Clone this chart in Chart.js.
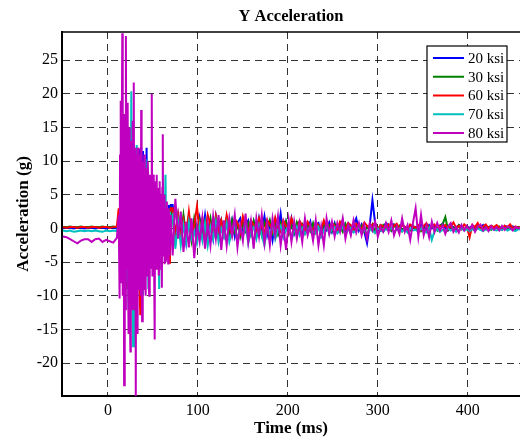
<!DOCTYPE html>
<html>
<head>
<meta charset="utf-8">
<title>Y Acceleration</title>
<script src="https://cdn.jsdelivr.net/npm/chart.js@4.4.1/dist/chart.umd.min.js"></script>
<style>
  body { margin: 0; background: #fff; }
  #chart { display: block; }
</style>
</head>
<body>
<canvas id="chart" width="520" height="438"></canvas>
<script>
// time in ms (coarse before impact, 1 ms during impact, 3 ms afterwards)
const time = [
  -50,-46,-42,-38,-34,-30,-26,-22,-18,-14,-10,-6,-2,2,6,10,
  12,13,14,15,16,17,18,19,20,21,
  22,23,24,25,26,27,28,29,30,31,
  32,33,34,35,36,37,38,39,40,41,
  42,43,44,45,46,47,48,49,50,51,
  52,53,54,55,56,57,58,59,60,61,
  62,63,64,65,66,67,68,69,70,
  72,75,78,81,84,87,90,93,96,99,
  102,105,108,111,114,117,120,123,126,129,
  132,135,138,141,144,147,150,153,156,159,
  162,165,168,171,174,177,180,183,186,189,
  192,195,198,201,204,207,210,213,216,219,
  222,225,228,231,234,237,240,243,246,249,
  252,255,258,261,264,267,270,273,276,279,
  282,285,288,291,294,297,300,303,306,309,
  312,315,318,321,324,327,330,333,336,339,
  342,345,348,351,354,357,360,363,366,369,
  372,375,378,381,384,387,390,393,396,399,
  402,405,408,411,414,417,420,423,426,429,
  432,435,438,441,444,447,450,453,456,459
];

// the 80 ksi record is read at 0.5 ms through the impact
const time80 = [
  -50,-46,-42,-38,-34,-30,-26,-22,-18,-14,-10,-6,-2,2,6,10,
  12,12.5,13,13.5,14,14.5,15,15.5,16,16.5,17,17.5,18,18.5,19,19.5,20,20.5,21,21.5,
  22,22.5,23,23.5,24,24.5,25,25.5,26,26.5,27,27.5,28,28.5,29,29.5,30,30.5,31,31.5,
  32,32.5,33,33.5,34,34.5,35,35.5,36,36.5,37,37.5,38,38.5,39,39.5,40,40.5,41,41.5,
  42,42.5,43,43.5,44,44.5,45,45.5,46,46.5,47,47.5,48,48.5,49,49.5,50,50.5,51,51.5,
  52,52.5,53,53.5,54,54.5,55,55.5,56,56.5,57,57.5,58,58.5,59,59.5,60,60.5,61,61.5,
  62,62.5,63,63.5,64,64.5,65,65.5,66,66.5,67,67.5,68,68.5,69,69.5,70,
  72,75,78,81,84,87,90,93,96,99,
  102,105,108,111,114,117,120,123,126,129,
  132,135,138,141,144,147,150,153,156,159,
  162,165,168,171,174,177,180,183,186,189,
  192,195,198,201,204,207,210,213,216,219,
  222,225,228,231,234,237,240,243,246,249,
  252,255,258,261,264,267,270,273,276,279,
  282,285,288,291,294,297,300,303,306,309,
  312,315,318,321,324,327,330,333,336,339,
  342,345,348,351,354,357,360,363,366,369,
  372,375,378,381,384,387,390,393,396,399,
  402,405,408,411,414,417,420,423,426,429,
  432,435,438,441,444,447,450,453,456,459
];

const ksi20 = [
  0.1,0.1,0.1,0.0,0.1,0.1,0.0,0.1,0.1,0.0,0.1,0.1,0.0,0.1,0.1,0.0,
  0.3,2,-4,8,-6,9,-8,10,-9,8,
  -7,9,-10,7,-8,9,-7,8,-9,10,
  -6,12,-5,11.8,-7,12,-4,11.5,-6,9,
  -5,12,-6,7,-4,6,-5,5,-3,6,
  -4,4,-3,5,-2,4,-3,3,-2,4,
  -2.5,3,-2,2.5,-1.5,2,3.5,-1,3.5,
  3.5,-1.5,2,-1,1.5,-2,1.8,-0.5,1.2,-1.5,
  1.5,-1,2,-0.8,1,-1.5,1.8,-0.5,1.2,-1,
  1.5,-0.8,1.2,-1.2,0.8,1.5,-1,0.5,1.2,-0.8,
  1,-1.2,1.5,-0.5,1.8,-1,0.8,-1.7,1.2,-0.5,
  2.2,-1,1,-0.5,1.5,-0.8,0.5,1,-0.5,0.8,
  -0.3,1,-0.8,0.5,0.8,-1,0.6,-0.2,0.9,-0.5,
  0.8,-0.5,0.5,1.2,-0.4,0.6,-0.8,0.5,1.5,-0.3,
  0.6,-0.5,-2.2,0.5,4.2,0.8,-0.3,0.5,0.2,0.8,
  0.5,-0.3,0.6,0.2,-0.4,0.7,0.1,-0.2,0.5,0.3,
  0.2,-0.3,0.6,0.1,-0.2,0.5,0,0.3,-0.2,0.4,
  0.7,0.1,-0.3,0.4,0.2,-0.1,0.5,0.3,-0.2,0.3,
  0.1,0.4,-0.2,0.3,0.1,0.5,-0.1,0.2,0.4,0,
  0.3,0.1,-0.2,0.4,0.2,0,0.3,0.1,0.2,0
];

const ksi30 = [
  0.2,0.2,0.3,0.2,0.2,0.3,0.2,0.2,0.3,0.2,0.2,0.3,0.2,0.2,0.3,0.2,
  1,-3,6,-6,8,-7,9,-6,7,-9,
  8,-7,9,-8,6,-7,8,-9,7,-6,
  9,-7,8,-5,7,-8,6,-6,7,-5,
  6,-7,5,-4,6,-5,4,-4,5,-3,
  4,-4,3,-3,4,-2,3,-4.5,3,-2,
  3,-2,2.5,-1.5,2,-2,3,-1,2.5,
  1.5,-2,1,-1.5,2,-1,0.8,-1.8,1.5,-0.5,
  1.2,-1.2,0.8,-0.6,1.5,-1,0.5,-1.2,1,-0.3,
  0.8,-1,1.2,-0.5,0.6,-1.2,1,-0.4,0.8,-0.8,
  1.1,-0.6,0.7,-1,0.9,-0.3,1.2,-0.7,0.5,-0.9,
  0.8,-0.5,1,-0.8,0.4,-0.6,0.9,-0.2,0.6,-0.7,
  0.5,-0.4,0.8,-0.6,0.3,-0.5,0.7,0,0.5,-0.4,
  0.6,-0.3,0.4,-0.5,0.7,-0.2,0.3,-0.4,0.5,-0.1,
  0.4,-0.5,0.3,-0.2,0.6,-0.6,0.2,-0.3,0.5,0,
  0.3,-0.3,0.5,-0.1,0.4,-0.4,0.2,0.1,-0.3,0.4,
  -0.1,0.3,-0.4,0.2,0.5,-0.2,0.3,0,-0.3,0.4,
  0.6,1.7,-0.2,0.4,0.1,-0.3,0.5,0.2,-0.1,0.3,
  0,0.3,-0.2,0.4,0.1,-0.1,0.3,0.2,-0.2,0.2,
  0.1,0.3,-0.1,0.2,0,0.3,0.1,-0.1,0.2,0.1
];

const ksi60 = [
  0.2,0.1,0.2,0.2,0.1,0.2,0.2,0.1,0.2,0.2,0.1,0.2,0.2,0.1,0.2,0.3,
  3,-2,7,-5,9,-6,8,-7,10,-8,
  7,-9,8,-6,9,-8,7,-6,8,-7,
  6,-9,7,-8,-12.9,6,-7,8.5,-6,7,
  -5,8,7.7,-4,6,-5,5,-4,6,-3,
  5,-4,4,-3,5,-2,4,-3,3,-2,
  4,-3,2,-2,3,-3,-5.1,2,3,
  3,-1,2,-1.5,1.2,-0.8,2.5,-1,0.5,3.3,
  -0.5,1.5,-1,2,0.5,-1.2,1.8,-0.3,1.2,-0.8,
  2,0.2,-1,1.5,0.8,-0.6,1.8,0.3,-0.8,1.2,
  0.5,-0.5,1.5,0.2,-0.7,1.3,0.6,-0.4,1.6,0.1,
  -0.5,1.2,0.4,-0.6,1.5,0.3,-0.3,1.1,0.5,-0.2,
  1,0.2,-0.4,0.9,0.5,-0.2,1.2,0.1,-0.3,0.8,
  0.4,-0.2,1,0.3,-0.1,0.8,0.5,-0.3,0.7,0.2,
  -0.2,0.9,0.4,0,0.6,0.8,-0.2,0.5,0.3,0.1,
  0.6,-0.1,0.4,0.7,0,0.5,0.2,-0.2,0.6,0.3,
  0.1,0.5,-0.2,0.4,0.8,0,0.3,0.6,-0.1,0.4,
  0.2,0.5,-0.2,0.3,0.9,0.1,0.4,-0.1,0.6,0.2,
  -1.3,0.5,0.2,0.8,-0.1,0.3,0.6,0,0.4,0.2,
  0.5,0.1,-0.1,0.4,0.2,0.6,0,0.3,0.1,0.2
];

const ksi70 = [
  -0.3,-0.4,-0.3,-0.5,-0.4,-0.3,-0.4,-0.3,-0.4,-0.3,-0.4,-0.5,-0.3,-0.4,-0.3,-0.4,
  0.5,-3,6,-5,10,-7,8,-9,12,-8,
  9,-12,14,-10,20.4,-6,-17.5,8,-11,5,
  12.4,-9,7,-8,9,-6,6,-10,5,-4,
  10.3,-7,4,-9,6,-5,4,-6,7,-4,
  3,-6,5,-3,4,-9,3,-4,5,-3,
  4,-2,8,-3,2,-1.5,2.5,-1,1.5,
  2,-3,1,-2.5,0.5,-2,1,-1.5,-0.5,-2.2,
  0.5,-1.8,0.8,-2.5,0.2,-1.5,1,-2,0,-1.2,
  0.8,-2,-0.5,0.5,-1.8,0.3,-1.2,0.6,-2.2,-0.3,
  0.2,-1.5,0.5,-1,-2.5,0.3,-0.8,0.6,-1.6,-0.2,
  0.4,-1.2,-0.3,0.5,-1.5,-0.4,0.3,-1,0.1,-0.8,
  -0.2,0.3,-1,-0.5,0.2,-1.2,-0.3,0.4,-0.8,-0.1,
  0.2,-0.7,-0.3,0.3,-0.9,-0.2,0.1,-0.6,-0.3,0.2,
  -0.5,-0.2,-0.8,0.1,-0.4,-0.6,0,-0.3,-0.5,-0.1,
  -0.3,0.1,-0.5,-0.2,0,-0.4,-0.1,-0.6,0,-0.3,
  -0.2,-0.5,0,-0.3,-0.6,0.1,-1.7,-0.4,-0.1,-0.5,
  -0.2,-0.4,0,-0.3,-0.1,-0.5,-0.2,0,-0.3,-0.1,
  -0.4,-0.1,-0.3,0,-0.2,-0.4,-0.1,-0.3,0,-0.2,
  -0.3,-0.1,-0.2,0,-0.3,-0.1,-0.2,-0.4,-0.1,-0.2
];

const ksi80 = [
  -1.2,-1.3,-1.6,-1.9,-2.2,-1.8,-1.6,-1.6,-2.0,-1.6,-1.5,-2.0,-1.7,-1.9,-2.1,-1.4,
  2,-4,-10.4,11,19,-6,-8,16,29,-10,5,17,-23.3,12,17,-12,28.6,8,-6,14,
  18.7,-9,-15.7,15,12,-11,-18.3,13,10,-12,3,16,-12,9,21.7,-10,-8,12,-25,11,
  9,-10,-15.7,12,12,-8,-9,11,8,-10,17.6,4,-13.8,10,6,-9,-7,11,10,-8,
  -10,9,8,-7,-4,10,7,-9,-10,8,3,-6,6,9,20,-7,-6,8,5,-8,
  -16.5,7,4,-6,6,8,-5,6,5.5,-7,-6,7,3,-5,5,4,-8.8,6,14,-4,
  2,5,-5.3,3,3,-5,-4,4,1,-3,-5.2,3,2,-4,-3,2,1,
  -4,4.4,-1.5,2.5,-3.5,1,-2.8,1.5,-4.4,0.5,
  -2,1.5,-3,0.8,-2.5,1.8,-1.5,2,-3.2,1.2,
  -2.5,1.5,-1,2,-2.8,0.5,-1.8,2.2,-2,1,
  -3,1.5,-1.2,2,-2.2,0.8,-2.5,1.5,-1,1.8,
  -2.5,0.5,-3.2,1.2,-2,1,-1.5,0.8,-2,1.5,
  -1,0.5,-1.8,1.2,-2.5,0.3,-2.5,1.5,-0.8,1,
  -1.2,0.8,-0.5,1.5,-1.5,0.5,-1,1.2,-0.6,0.8,
  -1,0.5,-1.5,0.8,-0.3,1,-1.2,0.2,-0.5,0.8,
  -0.5,1.2,-1,0.3,-0.8,1.5,-0.5,0.5,-1.7,0.8,
  3,-1.2,2,-1,0.5,-1.3,1,-0.5,0.8,-0.3,
  0.5,-0.8,0.3,0.8,-0.5,0.2,-0.6,0.5,-0.3,0.4,
  -0.2,0.5,-0.5,0.3,0.6,-0.3,0.2,-0.4,0.3,-0.2,
  0.2,-0.3,0.4,-0.2,0.3,0.1,-0.3,0.2,0,0.1
];

const seriesNames = ["20 ksi", "30 ksi", "60 ksi", "70 ksi", "80 ksi"];
const seriesTimes = [time, time, time, time, time80];
const seriesValues = [ksi20, ksi30, ksi60, ksi70, ksi80];
const seriesColors = ["#0000ff", "#008000", "#ff0000", "#00bfbf", "#bf00bf"];
const xTicks = [0, 100, 200, 300, 400];
const yTicks = [-20, -15, -10, -5, 0, 5, 10, 15, 20, 25];

const serif = "'Liberation Serif', 'Times New Roman', serif";

function points(times, values) {
    return times.map((t, i) => ({ x: t, y: values[i] }));
}

// title, axis titles, top frame line and the legend box inside the plot
const frame = {
    id: "frame",
    afterDraw(chart) {
        const ctx = chart.ctx;
        const area = chart.chartArea;
        ctx.save();

        ctx.strokeStyle = "#000";
        ctx.lineWidth = 1.5;
        ctx.beginPath();
        ctx.moveTo(area.left, area.top);
        ctx.lineTo(area.right, area.top);
        ctx.stroke();

        ctx.fillStyle = "#000";
        ctx.textAlign = "center";
        ctx.textBaseline = "alphabetic";
        ctx.font = "bold 16.5px " + serif;
        ctx.fillText("Y Acceleration", (area.left + area.right) / 2, 21);

        ctx.font = "bold 17px " + serif;
        ctx.fillText("Time (ms)", (area.left + area.right) / 2, 433);

        ctx.save();
        ctx.translate(28, (area.top + area.bottom) / 2);
        ctx.rotate(-Math.PI / 2);
        ctx.fillText("Acceleration (g)", 0, 0);
        ctx.restore();

        // legend
        const bx = 427, by = 46, bw = 80, bh = 96;
        ctx.fillStyle = "#fff";
        ctx.fillRect(bx, by, bw, bh);
        ctx.strokeStyle = "#000";
        ctx.lineWidth = 1.2;
        ctx.strokeRect(bx, by, bw, bh);

        ctx.font = "15px " + serif;
        ctx.textAlign = "left";
        ctx.textBaseline = "middle";
        chart.data.datasets.forEach((ds, i) => {
            const y = 58 + i * 18.75;
            ctx.strokeStyle = ds.borderColor;
            ctx.lineWidth = 2;
            ctx.beginPath();
            ctx.moveTo(433, y);
            ctx.lineTo(464, y);
            ctx.stroke();
            ctx.fillStyle = "#000";
            ctx.fillText(ds.label, 468, y + 1);
        });

        ctx.restore();
    }
};

const datasets = seriesNames.map((name, i) => ({
    label: name,
    data: points(seriesTimes[i], seriesValues[i]),
    borderColor: seriesColors[i],
    backgroundColor: seriesColors[i],
    borderWidth: 2,
    pointRadius: 0,
    tension: 0,
    fill: false,
    order: seriesNames.length - i
}));

new Chart(document.getElementById("chart"), {
    type: "line",
    data: { datasets: datasets },
    options: {
        responsive: false,
        animation: false,
        parsing: false,
        layout: { padding: { top: 32, right: 0, bottom: 0, left: 0 } },
        plugins: {
            legend: { display: false },
            title: { display: false },
            tooltip: { enabled: false }
        },
        scales: {
            x: {
                type: "linear",
                min: -51,
                max: 458,
                afterBuildTicks: axis => { axis.ticks = xTicks.map(v => ({ value: v })); },
                afterFit: axis => { axis.height = 42; },
                grid: { color: "rgba(0,0,0,0.8)", lineWidth: 1, drawTicks: false },
                border: { display: true, color: "#000", width: 2, dash: [7, 5] },
                ticks: {
                    color: "#000",
                    padding: 5,
                    maxRotation: 0,
                    font: { family: serif, size: 16 }
                }
            },
            y: {
                type: "linear",
                min: -24.9,
                max: 29.2,
                afterBuildTicks: axis => { axis.ticks = yTicks.map(v => ({ value: v })); },
                afterFit: axis => { axis.width = 62; },
                grid: { color: "rgba(0,0,0,0.8)", lineWidth: 1, drawTicks: false },
                border: { display: true, color: "#000", width: 2, dash: [7, 5] },
                ticks: {
                    color: "#000",
                    padding: 4,
                    font: { family: serif, size: 16 }
                }
            }
        }
    },
    plugins: [frame]
});
</script>
</body>
</html>
